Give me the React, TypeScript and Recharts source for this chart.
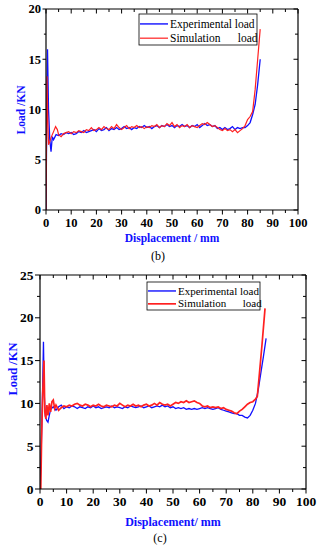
import React from 'react';
import { LineChart, Line, XAxis, YAxis } from 'recharts';

const SERIES_NAMES = ['Experimental load', 'Simulation      load'];
const X_LABEL_B = 'Displacement / mm';
const X_LABEL_C = 'Displacement/ mm';
const Y_LABEL = 'Load /KN';

const X_TICKS = [0, 5, 10, 15, 20, 25, 30, 35, 40, 45, 50, 55, 60, 65, 70, 75, 80, 85, 90, 95, 100];
const Y_TICKS_B = [0, 2.5, 5, 7.5, 10, 12.5, 15, 17.5, 20];
const Y_TICKS_C = [0, 2.5, 5, 7.5, 10, 12.5, 15, 17.5, 20, 22.5, 25];

// Panel (b)
const bExpX = [0, 0.3, 0.6, 1.0, 1.5, 2.0, 2.5, 3, 4, 5, 6, 7, 8, 9, 10, 11, 12, 13, 14, 15, 16, 17, 18, 19, 20, 21, 22, 23, 24, 25, 26, 27, 28, 29, 30, 31, 32, 33, 34, 35, 36, 37, 38, 39, 40, 41, 42, 43, 44, 45, 46, 47, 48, 49, 50, 51, 52, 53, 54, 55, 56, 57, 58, 59, 60, 61, 62, 63, 64, 65, 66, 67, 68, 69, 70, 71, 72, 73, 74, 75, 76, 77, 78, 79, 80, 81, 82, 83, 84, 85];
const bExpY = [0, 9, 16, 10, 7, 5.8, 7.3, 7.0, 7.5, 7.4, 7.6, 7.5, 7.7, 7.6, 7.7, 7.5, 7.6, 7.8, 7.7, 7.9, 7.7, 7.8, 7.9, 8.0, 7.8, 8.1, 7.9, 8.0, 8.2, 7.9, 8.1, 8.0, 8.2, 8.0, 8.1, 8.3, 8.1, 8.2, 8.0, 8.2, 8.1, 8.3, 8.2, 8.4, 8.2, 8.3, 8.1, 8.3, 8.4, 8.2, 8.4, 8.3, 8.5, 8.3, 8.4, 8.2, 8.4, 8.3, 8.5, 8.3, 8.4, 8.2, 8.4, 8.3, 8.5, 8.2, 8.4, 8.6, 8.4, 8.5, 8.3, 8.4, 8.1, 8.2, 8.0, 8.2, 8.0, 8.1, 8.3, 8.0, 8.2, 8.1, 8.2, 8.2, 8.4, 8.7, 9.5, 10.5, 12.5, 15];
const bSimX = [0, 0.2, 0.4, 0.7, 1.0, 1.5, 2, 3, 3.8, 4.5, 5, 6, 7, 8, 9, 10, 11, 12, 13, 14, 15, 16, 17, 18, 19, 20, 21, 22, 23, 24, 25, 26, 27, 28, 29, 30, 31, 32, 33, 34, 35, 36, 37, 38, 39, 40, 41, 42, 43, 44, 45, 46, 47, 48, 49, 50, 51, 52, 53, 54, 55, 56, 57, 58, 59, 60, 61, 62, 63, 64, 65, 66, 67, 68, 69, 70, 71, 72, 73, 74, 75, 76, 77, 78, 79, 80, 81, 82, 83, 84, 85];
const bSimY = [0, 7, 13.3, 9, 6.5, 6.8, 7.2, 7.8, 8.3, 8.0, 7.5, 7.3, 7.6, 7.7, 7.8, 7.6, 7.8, 7.7, 7.9, 7.8, 7.7, 8.0, 7.9, 8.2, 7.9, 8.0, 8.2, 8.0, 8.3, 8.1, 8.0, 8.3, 8.1, 8.5, 8.2, 8.0, 8.2, 8.4, 8.1, 8.3, 8.2, 8.4, 8.2, 8.3, 8.1, 8.3, 8.2, 8.4, 8.3, 8.5, 8.2, 8.4, 8.3, 8.6, 8.4, 8.7, 8.3, 8.5, 8.2, 8.4, 8.3, 8.5, 8.2, 8.4, 8.3, 8.2, 8.4, 8.6, 8.5, 8.7, 8.5, 8.3, 8.4, 8.2, 8.0, 7.9, 8.1, 7.9, 8.0, 7.8, 8.0, 7.7, 7.9, 8.1, 8.4, 9.0, 9.3, 9.8, 12, 15, 18];

// Panel (c)
const cExpX = [0, 0.5, 1.0, 1.3, 1.6, 2.0, 2.5, 3, 3.5, 4, 5, 6, 7, 8, 9, 10, 11, 12, 13, 14, 15, 16, 17, 18, 19, 20, 21, 22, 23, 24, 25, 26, 27, 28, 29, 30, 31, 32, 33, 34, 35, 36, 37, 38, 39, 40, 41, 42, 43, 44, 45, 46, 47, 48, 49, 50, 51, 52, 53, 54, 55, 56, 57, 58, 59, 60, 61, 62, 63, 64, 65, 66, 67, 68, 69, 70, 71, 72, 73, 74, 75, 76, 77, 78, 79, 80, 81, 82, 83, 84, 85];
const cExpY = [0, 5, 12, 17.2, 11, 8.5, 8.0, 7.8, 8.6, 9.3, 9.6, 9.2, 9.6, 9.8, 9.4, 9.6, 9.5, 9.7, 9.6, 9.4, 9.6, 9.5, 9.4, 9.6, 9.5, 9.7, 9.5, 9.6, 9.4, 9.5, 9.6, 9.5, 9.7, 9.5, 9.6, 9.5, 9.4, 9.6, 9.5, 9.7, 9.6, 9.5, 9.6, 9.7, 9.5, 9.6, 9.7, 9.5, 9.6, 9.7, 9.6, 9.8, 9.6, 9.7, 9.5, 9.6, 9.4, 9.5, 9.4, 9.5, 9.3, 9.4, 9.3, 9.4, 9.3, 9.4, 9.5, 9.4, 9.5, 9.4, 9.3, 9.4, 9.5, 9.3, 9.2, 9.1, 9.0, 8.9, 8.8, 8.8, 8.6, 8.6, 8.4, 8.3, 8.6, 9.2, 10.0, 11.5, 13.5, 15.5, 17.6];
const cSimX = [0, 0.3, 0.6, 1.0, 1.5, 1.8, 2.2, 2.6, 3, 3.5, 4, 4.5, 5, 5.5, 6, 7, 8, 9, 10, 11, 12, 13, 14, 15, 16, 17, 18, 19, 20, 21, 22, 23, 24, 25, 26, 27, 28, 29, 30, 31, 32, 33, 34, 35, 36, 37, 38, 39, 40, 41, 42, 43, 44, 45, 46, 47, 48, 49, 50, 51, 52, 53, 54, 55, 56, 57, 58, 59, 60, 61, 62, 63, 64, 65, 66, 67, 68, 69, 70, 71, 72, 73, 74, 75, 76, 77, 78, 79, 80, 81, 81.7, 82.5, 83.5, 84.6];
const cSimY = [0, 0, 6, 11, 15, 9, 8.2, 9.8, 8.6, 10.0, 9.0, 10.2, 10.4, 9.4, 9.8, 9.2, 9.5, 9.7, 9.6, 9.8, 9.7, 9.9, 10.0, 9.8, 9.7, 9.9, 9.8, 9.6, 9.8, 9.7, 9.9, 9.7, 9.6, 9.8, 9.7, 9.6, 9.8, 9.7, 10.0, 9.8, 9.6, 9.8, 9.7, 9.9, 9.7, 9.8, 9.6, 9.8, 9.9, 9.7, 9.8, 10.0, 9.8, 10.1, 9.9, 9.8, 9.9, 9.7, 9.9, 10.1, 10.0, 10.2, 10.1, 10.3, 10.1, 10.2, 10.3, 10.1, 10.0, 9.7, 9.6, 9.7, 9.5, 9.6, 9.5, 9.6, 9.4, 9.5, 9.3, 9.2, 9.1, 8.9, 8.8, 9.1, 9.3, 9.6, 9.9, 10.1, 10.2, 10.5, 10.8, 13.5, 17, 21.1];

const zip = (xs: number[], ys: number[]) => xs.map((x, i) => ({ x, y: ys[i] }));

const SERIF = '"Liberation Serif", "Times New Roman", serif';
const BLUE = '#1010ff';
const RED = '#ff2020';

const bottomTick = (fs: number) => (props: any) => {
  const { x, y, payload } = props;
  const major = payload.value % 10 === 0;
  return (
    <g>
      <line x1={x} x2={x} y1={y} y2={y + (major ? 4.5 : 3)} stroke="#000" strokeWidth={1} />
      {major && (
        <text x={x} y={y + 17} textAnchor="middle" fontFamily={SERIF} fontWeight="bold" fontSize={fs} fill="#000">
          {payload.value}
        </text>
      )}
    </g>
  );
};

const topTick = (props: any) => {
  const { x, y, payload } = props;
  const major = payload.value % 10 === 0;
  return <line x1={x} x2={x} y1={y} y2={y + (major ? 4.5 : 3)} stroke="#000" strokeWidth={1} />;
};

const leftTick = (fs: number, len: number) => (props: any) => {
  const { x, y, payload } = props;
  const major = payload.value % 5 === 0;
  return (
    <g>
      <line x1={x - (major ? len : len * 0.6)} x2={x} y1={y} y2={y} stroke="#000" strokeWidth={1} />
      {major && (
        <text x={x - len - 1.5} y={y + fs * 0.34} textAnchor="end" fontFamily={SERIF} fontWeight="bold" fontSize={fs} fill="#000">
          {payload.value}
        </text>
      )}
    </g>
  );
};

const rightTick = (props: any) => {
  const { x, y, payload } = props;
  const major = payload.value % 5 === 0;
  return <line x1={x - (major ? 4.5 : 3)} x2={x} y1={y} y2={y} stroke="#000" strokeWidth={1} />;
};

const AXIS_LINE = { stroke: '#000', strokeWidth: 1.2 };

function Panel(props: {
  exp: { x: number; y: number }[];
  sim: { x: number; y: number }[];
  yTicks: number[];
  yMax: number;
  width: number;
  height: number;
  leftW: number;
  rightW: number;
  topH: number;
  bottomH: number;
  fs: number;
  tickLen: number;
  simWidth: number;
}) {
  const p = props;
  return (
    <LineChart width={p.width} height={p.height} margin={{ top: 0, right: 0, bottom: 0, left: 0 }}>
      <XAxis
        dataKey="x"
        type="number"
        domain={[0, 100]}
        ticks={X_TICKS}
        interval={0}
        allowDataOverflow
        height={p.bottomH}
        tickSize={0}
        tickMargin={0}
        tickLine={false}
        axisLine={AXIS_LINE}
        tick={bottomTick(p.fs)}
      />
      <XAxis
        xAxisId="top"
        orientation="top"
        dataKey="x"
        type="number"
        domain={[0, 100]}
        ticks={X_TICKS}
        interval={0}
        allowDataOverflow
        height={p.topH}
        tickSize={0}
        tickMargin={0}
        tickLine={false}
        axisLine={AXIS_LINE}
        tick={topTick}
      />
      <YAxis
        type="number"
        domain={[0, p.yMax]}
        ticks={p.yTicks}
        interval={0}
        allowDataOverflow
        width={p.leftW}
        tickSize={0}
        tickMargin={0}
        tickLine={false}
        axisLine={AXIS_LINE}
        tick={leftTick(p.fs, p.tickLen)}
      />
      <YAxis
        yAxisId="right"
        orientation="right"
        type="number"
        domain={[0, p.yMax]}
        ticks={p.yTicks}
        interval={0}
        allowDataOverflow
        width={p.rightW}
        tickSize={0}
        tickMargin={0}
        tickLine={false}
        axisLine={AXIS_LINE}
        tick={rightTick}
      />
      <Line
        data={p.exp}
        dataKey="y"
        name={SERIES_NAMES[0]}
        type="linear"
        stroke={BLUE}
        strokeWidth={1.3}
        dot={false}
        isAnimationActive={false}
      />
      <Line
        data={p.sim}
        dataKey="y"
        name={SERIES_NAMES[1]}
        type="linear"
        stroke={RED}
        strokeWidth={p.simWidth}
        dot={false}
        isAnimationActive={false}
      />
    </LineChart>
  );
}

function LegendBox(props: { x: number; y: number; w: number; h: number; fs: number; simWidth: number }) {
  const { x, y, w, h, fs, simWidth } = props;
  const row1 = y + h * 0.32;
  const row2 = y + h * 0.78;
  return (
    <g>
      <rect x={x} y={y} width={w} height={h} fill="#fff" stroke="#000" strokeWidth={0.8} />
      <line x1={x + 1} x2={x + 29} y1={row1} y2={row1} stroke={BLUE} strokeWidth={1.4} />
      <line x1={x + 1} x2={x + 29} y1={row2} y2={row2} stroke={RED} strokeWidth={simWidth} />
      <text x={x + 31} y={row1 + fs * 0.33} fontFamily={SERIF} fontSize={fs} fill="#000" style={{ whiteSpace: 'pre' }}>
        {SERIES_NAMES[0]}
      </text>
      <text x={x + 31} y={row2 + fs * 0.33} fontFamily={SERIF} fontSize={fs} fill="#000" style={{ whiteSpace: 'pre' }}>
        {SERIES_NAMES[1]}
      </text>
    </g>
  );
}

export default function App() {
  const bExp = zip(bExpX, bExpY);
  const bSim = zip(bSimX, bSimY);
  const cExp = zip(cExpX, cExpY);
  const cSim = zip(cSimX, cSimY);
  return (
    <div style={{ position: 'absolute', left: 0, top: 0, width: 323, height: 550, background: '#fff', overflow: 'hidden' }}>
      <div style={{ position: 'absolute', left: 0, top: 0 }}>
        <Panel exp={bExp} sim={bSim} yTicks={Y_TICKS_B} yMax={20} width={323} height={230} leftW={46} rightW={25} topH={9} bottomH={20} fs={12.5} tickLen={3.5} simWidth={1.2} />
      </div>
      <div style={{ position: 'absolute', left: 0, top: 260 }}>
        <Panel exp={cExp} sim={cSim} yTicks={Y_TICKS_C} yMax={25} width={323} height={250} leftW={40} rightW={17} topH={15} bottomH={21} fs={13.5} tickLen={5} simWidth={1.7} />
      </div>
      <svg width={323} height={550} style={{ position: 'absolute', left: 0, top: 0, pointerEvents: 'none' }}>
        <LegendBox x={139} y={14} w={118} h={31} fs={11.5} simWidth={1.2} />
        <LegendBox x={147} y={282} w={113} h={28} fs={11} simWidth={1.7} />
        <text x={0} y={0} transform="translate(24.5,110) rotate(-90)" textAnchor="middle" fontFamily={SERIF} fontWeight="bold" fontSize={11.5} fill={BLUE}>
          {Y_LABEL}
        </text>
        <text x={172} y={242} textAnchor="middle" fontFamily={SERIF} fontWeight="bold" fontSize={11.5} fill={BLUE}>
          {X_LABEL_B}
        </text>
        <text x={158} y={260} textAnchor="middle" fontFamily={SERIF} fontSize={12} fill="#000">(b)</text>
        <text x={0} y={0} transform="translate(16.5,369) rotate(-90)" textAnchor="middle" fontFamily={SERIF} fontWeight="bold" fontSize={12.5} fill={BLUE}>
          {Y_LABEL}
        </text>
        <text x={173} y={526} textAnchor="middle" fontFamily={SERIF} fontWeight="bold" fontSize={12} fill={BLUE}>
          {X_LABEL_C}
        </text>
        <text x={160} y={542} textAnchor="middle" fontFamily={SERIF} fontSize={12} fill="#000">(c)</text>
      </svg>
    </div>
  );
}
